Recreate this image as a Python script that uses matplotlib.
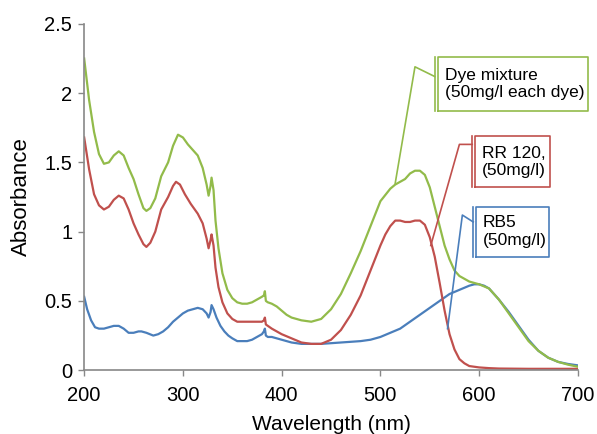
import matplotlib
matplotlib.use('Agg')
import matplotlib.pyplot as plt

plt.rcParams['font.family'] = ['Liberation Sans', 'DejaVu Sans']

# Dye mixture (green)
mix_wl = [200, 205, 210, 215, 220, 225, 230, 235, 240, 245, 250, 255, 260, 263, 267,
          272, 278, 285, 290, 295, 300, 305, 310, 315, 320, 324, 326, 328, 329, 331,
          333, 336, 340, 345, 350, 355, 360, 365, 370, 375, 380, 382, 383, 384, 386,
          390, 395, 400, 405, 410, 420, 430, 440, 450, 460, 470, 480, 490, 500, 510,
          515, 520, 525, 530, 535, 540, 545, 550, 555, 560, 565, 570, 575, 580, 590,
          600, 610, 620, 630, 640, 650, 660, 670, 680, 690, 700]
mix_abs = [2.25, 1.95, 1.72, 1.56, 1.49, 1.50, 1.55, 1.58, 1.55, 1.46, 1.38, 1.27, 1.17, 1.15, 1.17,
           1.24, 1.40, 1.50, 1.62, 1.70, 1.68, 1.63, 1.59, 1.55, 1.46, 1.34, 1.26, 1.33, 1.39, 1.30,
           1.08, 0.88, 0.70, 0.58, 0.52, 0.49, 0.48, 0.48, 0.49, 0.51, 0.53, 0.54, 0.57, 0.50, 0.49,
           0.48, 0.46, 0.43, 0.40, 0.38, 0.36, 0.35, 0.37, 0.44, 0.55, 0.70, 0.86, 1.04, 1.22, 1.31,
           1.34, 1.36, 1.38, 1.42, 1.44, 1.44, 1.41, 1.32, 1.18, 1.04, 0.90, 0.80, 0.72, 0.68, 0.64,
           0.62, 0.59, 0.51, 0.41, 0.31, 0.21, 0.14, 0.09, 0.06, 0.04, 0.025]

# RR 120 (red)
rr_wl = [200, 205, 210, 215, 220, 225, 230, 235, 240, 245, 250, 255, 260, 263, 267,
         272, 278, 285, 290, 293, 297, 302, 308, 315, 320, 324, 326, 328, 329, 331,
         333, 336, 340, 345, 350, 355, 360, 370, 380, 382, 383, 384, 386, 390, 395,
         400, 410, 420, 430, 440, 450, 460, 470, 480, 490, 500, 505, 510, 515, 520,
         525, 530, 535, 540, 545, 550, 555, 560, 565, 570, 575, 580, 585, 590, 600,
         610, 620, 650, 700]
rr_abs = [1.68, 1.45, 1.27, 1.19, 1.16, 1.18, 1.23, 1.26, 1.24, 1.16, 1.06, 0.98, 0.91, 0.89, 0.92,
          1.00, 1.16, 1.25, 1.33, 1.36, 1.34, 1.27, 1.20, 1.13, 1.06, 0.95, 0.88, 0.94, 0.98, 0.90,
          0.74, 0.60, 0.49, 0.41, 0.37, 0.35, 0.35, 0.35, 0.35, 0.36, 0.38, 0.33, 0.32, 0.30, 0.28,
          0.26, 0.23, 0.20, 0.19, 0.19, 0.22, 0.29, 0.40, 0.54, 0.72, 0.90, 0.98, 1.04, 1.08, 1.08,
          1.07, 1.07, 1.08, 1.08, 1.05, 0.96, 0.82, 0.63, 0.43, 0.26, 0.15, 0.08, 0.05, 0.03, 0.02,
          0.015, 0.012, 0.01, 0.01]

# RB5 (blue)
rb_wl = [200, 203, 207, 211, 215, 220, 225, 230, 235, 240, 245, 250, 255, 258, 263,
         270, 275, 280, 285, 290, 295, 300, 305, 310, 315, 320, 324, 326, 328, 329,
         331, 334, 338, 342, 346, 350, 355, 360, 365, 370, 375, 380, 382, 383, 384,
         386, 390, 395, 400, 410, 420, 430, 440, 460, 480, 490, 500, 510, 520, 530,
         540, 550, 560, 570, 580, 590, 595, 600, 605, 610, 620, 630, 640, 650, 660,
         670, 680, 690, 700]
rb_abs = [0.53, 0.44, 0.36, 0.31, 0.30, 0.30, 0.31, 0.32, 0.32, 0.30, 0.27, 0.27, 0.28, 0.28, 0.27,
          0.25, 0.26, 0.28, 0.31, 0.35, 0.38, 0.41, 0.43, 0.44, 0.45, 0.44, 0.41, 0.38, 0.42, 0.47,
          0.44, 0.38, 0.32, 0.28, 0.25, 0.23, 0.21, 0.21, 0.21, 0.22, 0.24, 0.26, 0.28, 0.30, 0.25,
          0.24, 0.24, 0.23, 0.22, 0.20, 0.19, 0.19, 0.19, 0.20, 0.21, 0.22, 0.24, 0.27, 0.30, 0.35,
          0.40, 0.45, 0.50, 0.55, 0.58, 0.61, 0.62, 0.62, 0.61, 0.59, 0.51, 0.42, 0.32, 0.22, 0.14,
          0.09, 0.06, 0.045, 0.035]

green = '#92bb4a'
red = '#c0504d'
blue = '#4a7ebb'

fig = plt.figure(figsize=(5.97, 4.34), dpi=100)
ax = fig.add_axes([0.141, 0.147, 0.827, 0.798])

ax.plot(rb_wl, rb_abs, color=blue, lw=1.6)
ax.plot(rr_wl, rr_abs, color=red, lw=1.6)
ax.plot(mix_wl, mix_abs, color=green, lw=1.6)

ax.set_xlim(200, 700)
ax.set_ylim(0, 2.5)
ax.set_xticks([200, 300, 400, 500, 600, 700])
ax.set_yticks([0, 0.5, 1, 1.5, 2, 2.5])
ax.set_yticklabels(['0', '0.5', '1', '1.5', '2', '2.5'])
ax.set_xlabel('Wavelength (nm)', fontsize=15)
ax.set_ylabel('Absorbance', fontsize=16)
ax.xaxis.set_label_coords(0.5, -0.13)
ax.yaxis.set_label_coords(-0.106, 0.5)
ax.tick_params(labelsize=14.5, color='#888888', length=4.5, width=1)
ax.tick_params(axis='x', pad=7)
ax.tick_params(axis='y', pad=4)
for s in ['top', 'right']:
    ax.spines[s].set_visible(False)
for s in ['left', 'bottom']:
    ax.spines[s].set_color('#888888')
    ax.spines[s].set_linewidth(1.2)


def callout(text, leader_x, leader_y, box, color):
    # leader line, then box with the doubled left edge
    ax.plot(leader_x, leader_y, color=color, lw=1.2, clip_on=False)
    x0, x1, y0, y1 = box
    ax.plot([x0, x1, x1, x0, x0], [y0, y0, y1, y1, y0], color=color, lw=1.2,
            clip_on=False)
    ax.plot([x0 - 3, x0 - 3], [y0, y1], color=color, lw=1.2, clip_on=False)
    ax.text(x0 + 7, (y0 + y1) / 2, text, fontsize=12.5, va='center', ha='left',
            linespacing=1.2, clip_on=False)


callout('Dye mixture\n(50mg/l each dye)', [515, 535, 555], [1.35, 2.19, 2.12],
        (558, 710, 1.87, 2.26), green)
callout('RR 120,\n(50mg/l)', [551, 580, 593], [0.90, 1.63, 1.63],
        (596, 672, 1.32, 1.69), red)
callout('RB5\n(50mg/l)', [568, 583, 594], [0.30, 1.12, 1.07],
        (597, 671, 0.82, 1.18), blue)

fig.savefig('out.png', dpi=100)
